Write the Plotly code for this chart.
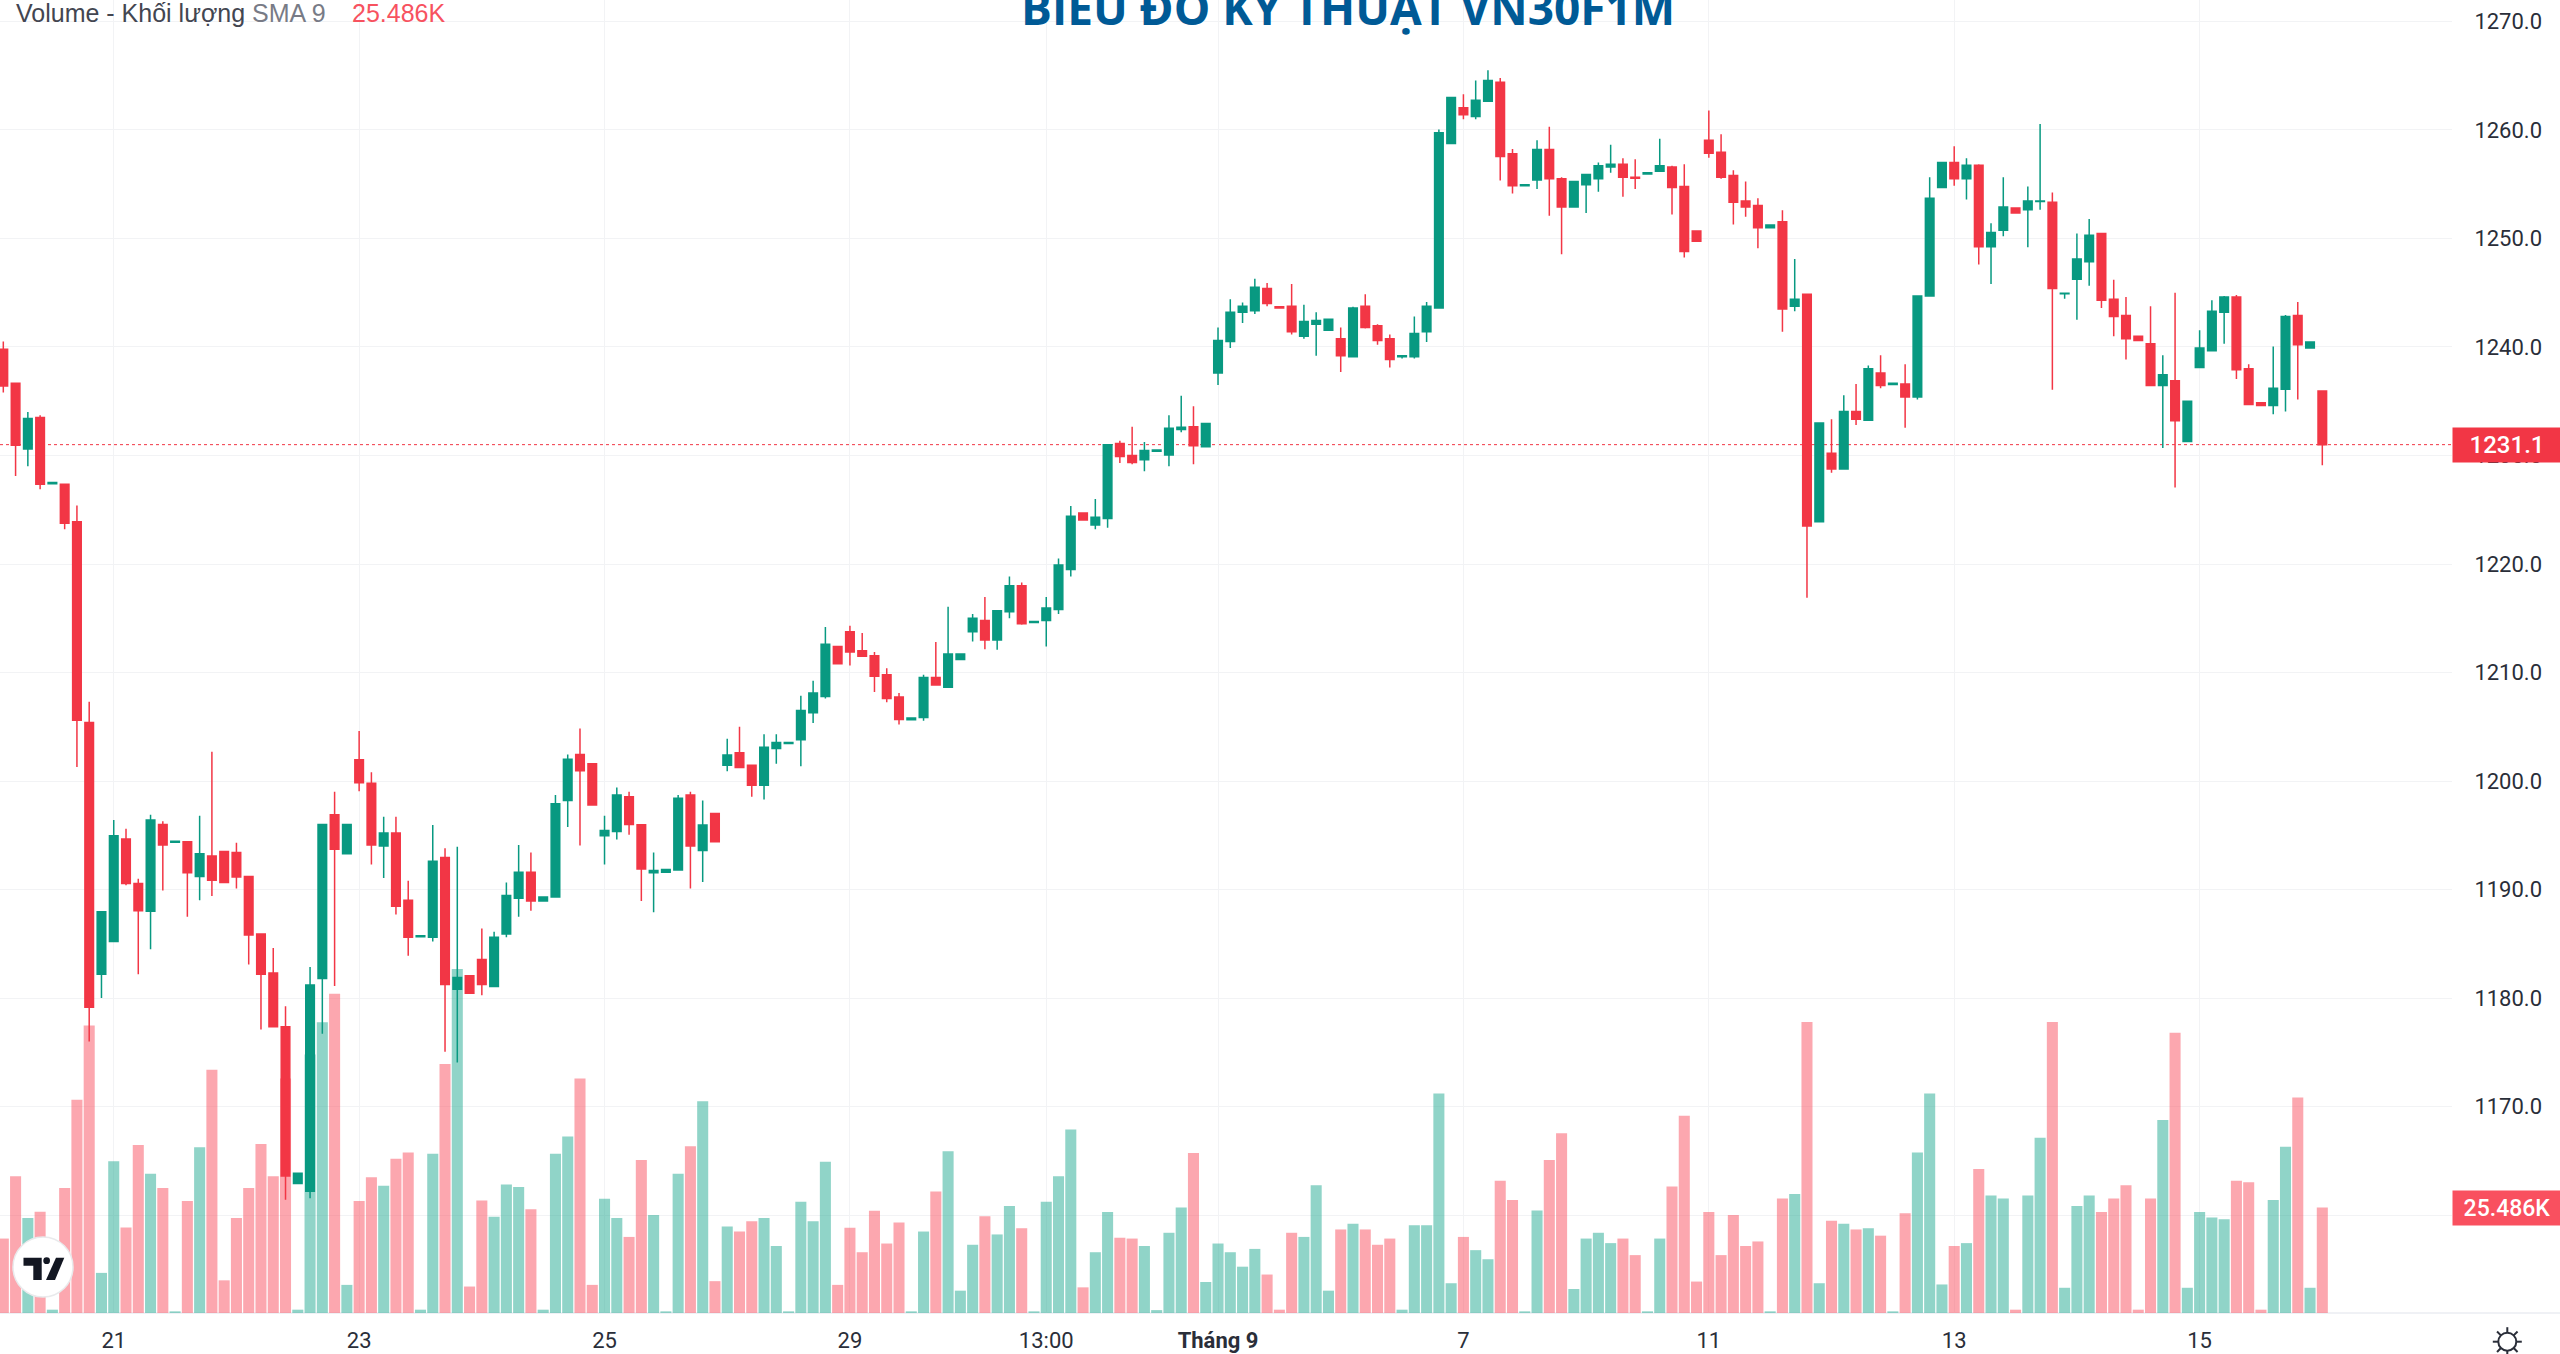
import math
import plotly.graph_objects as go

# ---------- data ----------
opens = [
 1239.8,1236.65,1230.6,1233.5,1227.4,1227.35,1223.9,1205.4,1182.2,1185.2,
 1194.65,1190.55,1188,1196,1194.35,1194.4,1191.2,1193.1,1193.5,1193.4,
 1191.2,1185.9,1182.3,1177.35,1162.9,1162.2,1181.8,1196.9,1193.3,1201.95,
 1199.8,1194,1195.2,1189,1185.65,1185.6,1192.95,1180.8,1182.05,1183.55,
 1181.05,1185.9,1189.2,1191.6,1188.95,1189.3,1198.2,1202.45,1201.6,1194.95,
 1195.35,1198.55,1195.97,1191.55,1191.6,1191.8,1198.7,1193.6,1197,1201.45,
 1202.6,1201.45,1199.6,1203,1203.45,1203.8,1206.3,1207.8,1212.4,1213.75,
 1212,1211.55,1209.8,1207.75,1205.65,1205.85,1209.55,1208.65,1211.2,1213.75,
 1214.8,1213,1215.6,1218,1214.6,1214.8,1215.8,1219.5,1224.7,1223.6,
 1224.2,1231.1,1230,1229.6,1230.4,1230.05,1232.4,1232.65,1230.8,1237.6,
 1240.5,1243.2,1243.35,1245.4,1243.7,1243.75,1241,1242.1,1241.55,1240.75,
 1239.1,1243.75,1241.95,1240.75,1239.1,1239.1,1241.4,1243.6,1258.75,1262.05,
 1261.25,1262.65,1264.4,1257.8,1254.85,1255.4,1258.2,1255.5,1252.9,1254.95,
 1255.5,1256.6,1256.85,1255.65,1255.95,1256.2,1256.6,1254.8,1250.7,1259.05,
 1257.95,1255.8,1253.45,1253.05,1251,1251.55,1243.75,1244.85,1223.9,1230.2,
 1228.75,1234.05,1233.25,1237.6,1236.55,1236.6,1235.4,1244.7,1254.7,1257,
 1255.5,1256.75,1249.25,1250.75,1252.8,1252.65,1253.4,1253.35,1244.9,1246.25,
 1247.85,1250.45,1244.4,1242.9,1241,1240.3,1236.45,1236.9,1231.3,1238.1,
 1239.65,1243.2,1244.6,1238,1234.85,1234.6,1236.1,1242.9,1239.9,1235.95]
highs = [
 1240.5,1236.65,1234,1233.7,1227.5,1227.35,1225.4,1207.3,1188,1196.4,
 1195.6,1191,1196.9,1196.3,1194.45,1194.4,1196.8,1202.7,1193.5,1194.3,
 1191.2,1185.9,1184.6,1179.25,1163.85,1182.85,1196,1199,1196,1204.6,
 1200.8,1196.7,1196.7,1190.8,1185.75,1195.95,1193.8,1193.95,1182.05,1186.4,
 1186.1,1190.65,1194.1,1193.4,1189.3,1198.7,1202.45,1204.85,1201.6,1196.8,
 1199.4,1199,1195.97,1193.4,1191.85,1198.7,1199,1198.2,1197,1203.9,
 1205,1201.45,1204.3,1204.3,1203.55,1207.85,1209.25,1214.2,1212.4,1214.3,
 1213.65,1211.9,1210.4,1208.1,1205.8,1209.8,1212.8,1216.05,1211.7,1215.4,
 1216.95,1215.7,1218.85,1218.3,1214.7,1216.95,1220.5,1225.35,1224.7,1226,
 1231,1231.35,1232.65,1231.25,1230.5,1233.7,1235.5,1234.55,1232.95,1241.8,
 1244.4,1244.1,1246.3,1245.9,1243.7,1245.8,1243.9,1243.2,1242.55,1241.8,
 1243.7,1244.85,1242.1,1241.15,1239.2,1242.8,1244.15,1260.05,1263,1263.3,
 1264.55,1265.5,1264.8,1258.25,1254.95,1259.05,1260.3,1255.65,1255.25,1255.9,
 1257,1258.65,1257.4,1257.3,1256.05,1259.2,1256.7,1256.85,1250.7,1261.8,
 1259.6,1256.3,1255.25,1253.7,1251.25,1252.6,1248.1,1244.85,1233,1233.35,
 1235.55,1236.6,1238.3,1239.25,1236.65,1238.4,1244.7,1255.65,1257,1258.5,
 1257.4,1256.85,1251.4,1255.65,1252.8,1254.8,1260.55,1254.25,1244.95,1250.45,
 1251.8,1250.45,1246.2,1244.6,1241,1243.75,1239.25,1245,1235,1241.55,
 1244.3,1244.7,1244.8,1238.4,1234.85,1240.05,1242.95,1244.15,1240.45,1235.95]
lows = [
 1235.8,1228.1,1229,1226.9,1227.4,1223.2,1201.3,1176,1180,1185.2,
 1190.4,1182.2,1184.5,1189.9,1194.35,1187.5,1189,1189.4,1190.65,1190.1,
 1183.1,1177.1,1177.3,1161.4,1162.9,1161.55,1176.7,1181.1,1193.3,1199.05,
 1192.3,1191.05,1187.7,1183.9,1185.65,1185.2,1175.05,1174.05,1180.45,1180.25,
 1181.05,1185.6,1187.5,1188.05,1188.95,1189.3,1195.75,1194.05,1197.8,1192.3,
 1194.6,1195.05,1188.95,1187.9,1191.6,1191.8,1190.1,1190.7,1194.4,1200.9,
 1201.25,1198.55,1198.3,1201.6,1203.45,1201.35,1205.35,1207.6,1210.8,1210.65,
 1211.5,1208.2,1207.25,1205.2,1205.65,1205.55,1208.85,1208.65,1211.2,1212.85,
 1212.15,1212.1,1215,1214.4,1214.6,1212.4,1215.4,1218.85,1224.05,1223.2,
 1223.35,1229.3,1229.2,1228.55,1230.4,1229,1232.15,1229.2,1230.8,1236.5,
 1239.9,1242.2,1243.05,1243.75,1243.6,1241.15,1240.75,1239.2,1241.55,1237.7,
 1239.1,1241.7,1240.2,1238.1,1238.95,1238.95,1240.45,1243.6,1258.75,1261,
 1261,1262.65,1255.35,1254.15,1254.85,1254.55,1252.1,1248.55,1252.9,1252.35,
 1254.3,1256.05,1253.85,1254.55,1255.95,1256.2,1252.2,1248.25,1249.75,1257.45,
 1255.5,1251.3,1252,1249.1,1251,1241.4,1243.3,1216.9,1223.9,1228.4,
 1228.75,1232.8,1233.25,1236.2,1236.55,1232.55,1235.15,1244.7,1254.7,1254.85,
 1253.6,1247.6,1245.8,1250.2,1252.35,1249.2,1252.65,1236.05,1244.45,1242.5,
 1245.65,1243.6,1241,1238.85,1240.6,1236.45,1230.7,1227.05,1231.3,1238.1,
 1239.65,1240.3,1237.05,1234.7,1234.6,1233.8,1234.05,1235.15,1239.9,1229.1]
closes = [
 1236.4,1230.95,1233.4,1227.35,1227.5,1223.75,1205.6,1179.15,1187.95,1194.95,
 1190.55,1188.05,1196.4,1194.1,1194.45,1191.55,1193.3,1190.85,1190.65,1191.15,
 1185.8,1182.2,1177.35,1163.6,1163.85,1181.2,1196,1193.7,1196,1199.85,
 1194.1,1195.2,1188.45,1185.6,1185.75,1192.6,1181.25,1181.9,1180.45,1181.25,
 1185.6,1189.45,1191.6,1188.95,1189.3,1197.9,1202,1200.95,1197.8,1195.45,
 1198.7,1196,1191.9,1191.75,1191.85,1198.4,1194,1195.95,1194.4,1202.4,
 1201.25,1199.6,1203.1,1203.55,1203.55,1206.5,1208.1,1212.6,1210.8,1211.9,
 1211.5,1209.65,1207.6,1205.67,1205.8,1209.55,1208.85,1211.7,1211.7,1215,
 1213,1215.7,1218,1214.5,1214.7,1215.95,1219.9,1224.4,1224.05,1224.3,
 1231,1229.9,1229.35,1230.45,1230.5,1232.5,1232.6,1230.9,1232.95,1240.6,
 1243.2,1243.75,1245.5,1244,1243.6,1241.4,1242.35,1242.45,1242.55,1239.2,
 1243.6,1241.8,1240.6,1238.85,1239.2,1241.25,1243.75,1259.75,1263,1261.4,
 1262.75,1264.55,1257.55,1254.85,1254.95,1258.2,1255.5,1252.9,1255.25,1255.9,
 1256.7,1256.85,1255.65,1255.55,1256.05,1256.7,1254.7,1248.8,1249.75,1257.85,
 1255.65,1253.35,1252.9,1251,1251.25,1243.5,1244.4,1223.5,1233,1228.75,
 1234.05,1233.35,1238,1236.45,1236.65,1235.4,1244.7,1253.7,1257,1255.5,
 1256.75,1249.25,1250.55,1252.9,1252.35,1253.45,1253.45,1245.4,1244.95,1248.1,
 1250.3,1244.3,1242.8,1240.75,1240.6,1236.45,1237.45,1233.2,1235,1239.9,
 1243.3,1244.6,1237.9,1234.7,1234.6,1236.2,1242.8,1240.2,1240.45,1231.0]
volumes = [
 18,33.1,23,24.5,0.8,30.2,51.6,69.5,9.7,36.7,
 20.7,40.6,33.7,30.2,0.4,27.1,40.1,58.8,7.9,23,
 30.2,40.9,33.1,56.7,0.8,62.5,70.3,77.2,6.8,27.1,
 32.8,30.8,37.3,38.8,0.8,38.5,60.2,83.2,6.4,27.2,
 23.3,31.1,30.5,25.1,0.8,38.5,42.7,56.7,6.8,27.6,
 23,18.4,37,23.7,0.4,33.7,40.3,51.2,7.7,20.9,
 19.7,22.2,23,16.2,0.4,26.9,22.2,36.6,6.8,20.6,
 14.7,24.7,16.8,21.9,0.4,19.7,29.4,39.1,5.4,16.5,
 23.4,19,25.9,20.5,0.4,26.9,33.1,44.4,6.2,14.7,
 24.4,18.2,18,16.2,0.7,19.4,25.5,38.7,7.5,16.8,
 14.7,11.2,15.5,9.3,0.8,19.4,18.4,30.9,5.4,20.2,
 21.6,20.2,16.5,18,0.8,21.2,21.2,53.1,7.2,18.4,
 15.2,13,32,27.3,0.4,24.8,37,43.5,5.8,18,
 19.4,16.9,18,14,0.4,18,30.6,47.7,7.6,24.4,
 14,23.7,16.2,17.3,0.4,27.7,28.8,70.4,7.2,22.3,
 21.6,20.2,20.5,18.7,0.4,24.1,38.8,53.1,6.9,16.2,
 16.9,34.8,28.4,27.7,0.8,28.4,42.4,70.4,6.1,25.9,
 28.4,24.4,27.7,30.9,0.8,27.7,46.7,67.8,6.1,24.4,
 23.1,22.7,32,31.6,0.8,27.3,40.2,52.1,6.1,25.486]
tick_positions = [9, 29, 49, 69, 85, 99, 119, 139, 159, 179]
tick_labels = ["21", "23", "25", "29", "13:00", "<b>Tháng 9</b>", "7", "11", "13", "15"]
last_price = 1231.0
last_price_text = "1231.1"
last_volume_text = "25.486K"

# ---------- styles ----------
W, H = 2560, 1354
PLOT_W, PLOT_H = 2452, 1313
UP, DOWN = "#089981", "#F23645"
VOL_UP, VOL_DOWN = "rgba(34,170,145,0.5)", "rgba(250,80,95,0.5)"
GRID = "#F2F3F5"
AXIS_FONT = "Roboto, sans-serif"
TEXT = "#2A2E39"

def px(x):
    return x / PLOT_W

def py(y):
    return 1 - y / PLOT_H

xs = list(range(len(closes)))
vol_colors = [VOL_UP if c >= o else VOL_DOWN for o, c in zip(opens, closes)]

fig = go.Figure()
fig.add_trace(go.Bar(x=xs, y=volumes, marker=dict(color=vol_colors, line_width=0),
                     width=0.9, xaxis="x", yaxis="y", hoverinfo="skip", showlegend=False))
fig.add_trace(go.Candlestick(
    x=xs, open=opens, high=highs, low=lows, close=closes,
    xaxis="x", yaxis="y2", whiskerwidth=0, showlegend=False,
    increasing=dict(line=dict(color=UP, width=1.5), fillcolor=UP),
    decreasing=dict(line=dict(color=DOWN, width=1.5), fillcolor=DOWN)))

shapes = [
    dict(type="line", xref="paper", yref="y2", x0=0, x1=1, y0=last_price, y1=last_price,
         line=dict(color=DOWN, width=1, dash="dot"), layer="below"),
    dict(type="line", xref="paper", yref="paper", x0=0, x1=px(W), y0=0, y1=0,
         line=dict(color="#E0E3EB", width=1), layer="below"),
    # TradingView badge
    dict(type="circle", xref="paper", yref="paper", x0=px(13), x1=px(73), y0=py(1297), y1=py(1237),
         fillcolor="white", line=dict(color="#E9EAEC", width=1.5), layer="above"),
]
def poly(points, color):
    d = "M " + " L ".join(f"{px(a):.5f},{py(b):.5f}" for a, b in points) + " Z"
    return dict(type="path", xref="paper", yref="paper", path=d, fillcolor=color,
                line_width=0, layer="above")
LOGO = "#131722"
shapes.append(poly([(23.5, 1257.7), (41.7, 1257.7), (41.7, 1280), (33.3, 1280), (33.3, 1265.7), (23.5, 1265.7)], LOGO))
shapes.append(poly([(56, 1257.7), (64.3, 1257.7), (55, 1280), (46, 1280)], LOGO))
shapes.append(dict(type="circle", xref="paper", yref="paper", x0=px(43.3), x1=px(50), y0=py(1264), y1=py(1257.3),
                   fillcolor=LOGO, line_width=0, layer="above"))
# settings gear
gx, gy = 2507.3, 1341.7
shapes.append(dict(type="circle", xref="paper", yref="paper", x0=px(gx - 9), x1=px(gx + 9), y0=py(gy + 9), y1=py(gy - 9),
                   line=dict(color=TEXT, width=2), fillcolor="rgba(0,0,0,0)"))
for k in range(8):
    a = k * math.pi / 4
    shapes.append(dict(type="line", xref="paper", yref="paper",
                       x0=px(gx + 9 * math.cos(a)), x1=px(gx + 14.5 * math.cos(a)),
                       y0=py(gy + 9 * math.sin(a)), y1=py(gy + 14.5 * math.sin(a)),
                       line=dict(color=TEXT, width=2)))

annotations = [
    dict(text="BIỂU ĐỒ KỸ THUẬT VN30F1M", xref="paper", yref="paper", x=px(1348), y=py(40),
         xanchor="center", yanchor="bottom", showarrow=False,
         font=dict(family="Open Sans, sans-serif", size=46, color="#005A96", weight="bold")),
    dict(text='<span style="color:#434651">Volume - Khối lượng</span> <span style="color:#787B86">SMA 9</span>',
         xref="paper", yref="paper", x=px(14), y=py(13), xanchor="left", yanchor="middle", showarrow=False,
         font=dict(family="Liberation Sans, Arial, sans-serif", size=25)),
    dict(text=last_volume_text, xref="paper", yref="paper", x=px(350), y=py(13), xanchor="left", yanchor="middle",
         showarrow=False, font=dict(family="Liberation Sans, Arial, sans-serif", size=25, color="#F7525F")),
    dict(text=last_price_text, xref="paper", yref="y2", x=1, y=last_price, xanchor="left", yanchor="middle",
         showarrow=False, width=108, height=34, bgcolor=DOWN, borderpad=0, align="center",
         font=dict(family=AXIS_FONT, size=24, color="white", weight=500)),
    dict(text=last_volume_text, xref="paper", yref="y", x=1, y=volumes[-1], xanchor="left", yanchor="middle",
         showarrow=False, width=108, height=34, bgcolor="#F9505F", borderpad=0, align="center",
         font=dict(family=AXIS_FONT, size=23, color="white", weight=500)),
]

fig.update_layout(
    width=W, height=H, autosize=False,
    margin=dict(l=0, r=W - PLOT_W, t=0, b=H - PLOT_H, pad=0, autoexpand=False),
    paper_bgcolor="white", plot_bgcolor="white",
    boxgap=0.3, boxgroupgap=0, bargap=0.1, showlegend=False, hovermode=False,
    xaxis=dict(domain=[0, 1], range=[-0.27, 199.57], type="linear", rangeslider=dict(visible=False),
               automargin=False, tickmode="array", tickvals=tick_positions, ticktext=tick_labels,
               showgrid=True, gridcolor=GRID, gridwidth=1, zeroline=False, showline=False,
               ticks="outside", ticklen=8, tickcolor="rgba(0,0,0,0)",
               tickfont=dict(family=AXIS_FONT, size=22, color=TEXT)),
    yaxis=dict(domain=[0, 1], range=[0, PLOT_H / 4.135], showgrid=False, zeroline=False,
               automargin=False, showticklabels=False, ticks=""),
    yaxis2=dict(overlaying="y", side="right", anchor="x", range=[1150.97, 1271.98], dtick=10, tick0=1150,
                automargin=False, tickformat=".1f", showgrid=True, gridcolor=GRID, gridwidth=1,
                zeroline=False, showline=False, ticks="outside", ticklen=17, tickcolor="rgba(0,0,0,0)",
                tickfont=dict(family=AXIS_FONT, size=22, color=TEXT)),
    shapes=shapes, annotations=annotations,
)

fig.write_html("out.html", config={"displayModeBar": False},
               post_script="document.body.style.margin='0';document.documentElement.style.overflow='hidden';")
